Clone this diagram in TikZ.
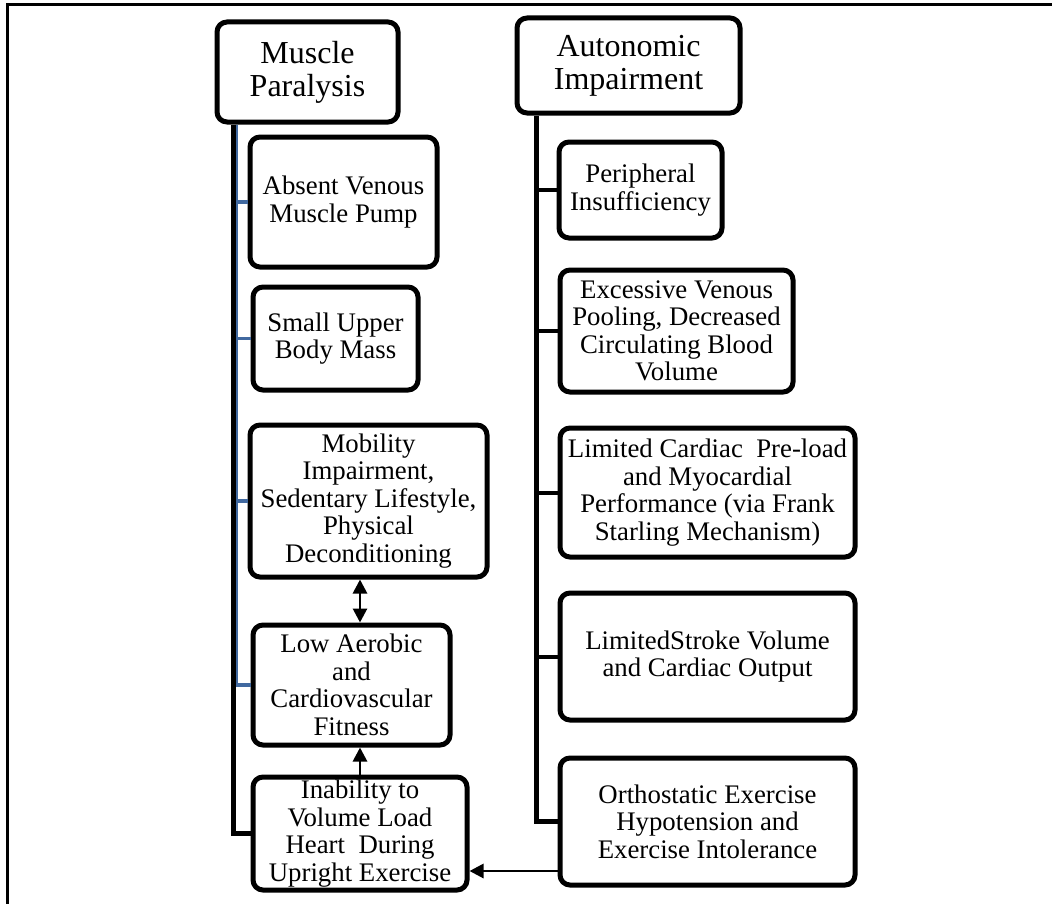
\documentclass[tikz,border=0pt]{standalone}
\usepackage{fontspec}
\setmainfont{Liberation Serif}
\usetikzlibrary{arrows.meta,positioning}
\definecolor{steel}{HTML}{4169A0}
\tikzset{
  head/.style 2 args={draw,line width=2.5pt,rounded corners=5pt,inner sep=0pt,
                      minimum width=#1,minimum height=#2,align=center,
                      font=\fontsize{16}{16.5}\selectfont},
  cause/.style 2 args={draw,line width=2.5pt,rounded corners=5pt,inner sep=0pt,
                       minimum width=#1,minimum height=#2,align=center,
                       font=\fontsize{13.4}{13.75}\selectfont},
  spine/.style={line width=2.2pt},
  branch/.style={line width=2pt},
  tick/.style={draw=steel,line width=1.6pt},
  arrow/.style={-{Triangle[length=7pt,width=7pt]},line width=1.4pt},
  twoway/.style={{Triangle[length=7pt,width=7pt]}-{Triangle[length=7pt,width=7pt]},line width=1.4pt}
}

\begin{document}
\begin{tikzpicture}[x=0.5pt,y=-0.5pt]
\useasboundingbox (0,0) rectangle (1052,904);
\draw[line width=1.5pt] (1052,5) -- (7,5) -- (7,904);
% left column
\node[head={90.5pt}{50pt}] (mp) at (307.5,72) {Muscle\\Paralysis};
\node[cause={93.5pt}{65pt}] (absent) at (343.5,202) {Absent Venous\\Muscle Pump};
\node[cause={82.5pt}{51.5pt}] (small) at (335.5,338.5) {Small Upper\\Body Mass};
\node[cause={118.5pt}{76pt}] (mobil) at (368.5,501) {Mobility\\Impairment,\\Sedentary Lifestyle,\\Physical\\Deconditioning};
\node[cause={98.5pt}{60pt}] (lowaer) at (351.5,685) {Low Aerobic\\and\\Cardiovascular\\Fitness};
\node[cause={107pt}{56.5pt}] (inab) at (360,833.5) {Inability to\\Volume Load\\Heart~~During\\Upright Exercise};
% right column
\node[head={111.5pt}{47.5pt}] (ai) at (628.5,65.5) {Autonomic\\Impairment};
\node[cause={81.5pt}{48pt}] (peri) at (640.5,190) {Peripheral\\Insufficiency};
\node[cause={116.5pt}{61pt}] (exces) at (676.5,331) {Excessive Venous\\Pooling, Decreased\\Circulating Blood\\Volume};
\node[cause={147.5pt}{64.5pt}] (limcard) at (707.5,492.5) {Limited Cardiac~~Pre-load\\and Myocardial\\Performance (via Frank\\Starling Mechanism)};
\node[cause={147.5pt}{63.5pt}] (limstr) at (707.5,656.5) {LimitedStroke Volume\\and Cardiac Output};
\node[cause={147.5pt}{63.5pt}] (orth) at (707.5,821.5) {Orthostatic Exercise\\Hypotension and\\Exercise Intolerance};
% spines
\coordinate (ltop) at ([xshift=9.5pt]mp.south west);
\coordinate (btop) at ([xshift=10.75pt]mp.south west);
\coordinate (rtop) at ([xshift=11pt]ai.south west);
\foreach \n in {absent,small,mobil,lowaer}
  \draw[tick] (btop) |- (\n.west);
\draw[spine] (ltop) |- (inab.west);
\draw[spine,line width=2.5pt] (rtop) |- (orth.west);
\foreach \n in {peri,exces,limcard,limstr}
  \draw[branch] (\n.west -| rtop) -- (\n.west);
% arrows
\draw[twoway] (inab.north |- mobil.south) -- (inab.north |- lowaer.north);
\draw[arrow] (inab.north) -- (inab.north |- lowaer.south);
\draw[arrow] ([yshift=-24.75pt]orth.west) -- ([yshift=-24.75pt]orth.west -| inab.east);
\end{tikzpicture}
\end{document}
